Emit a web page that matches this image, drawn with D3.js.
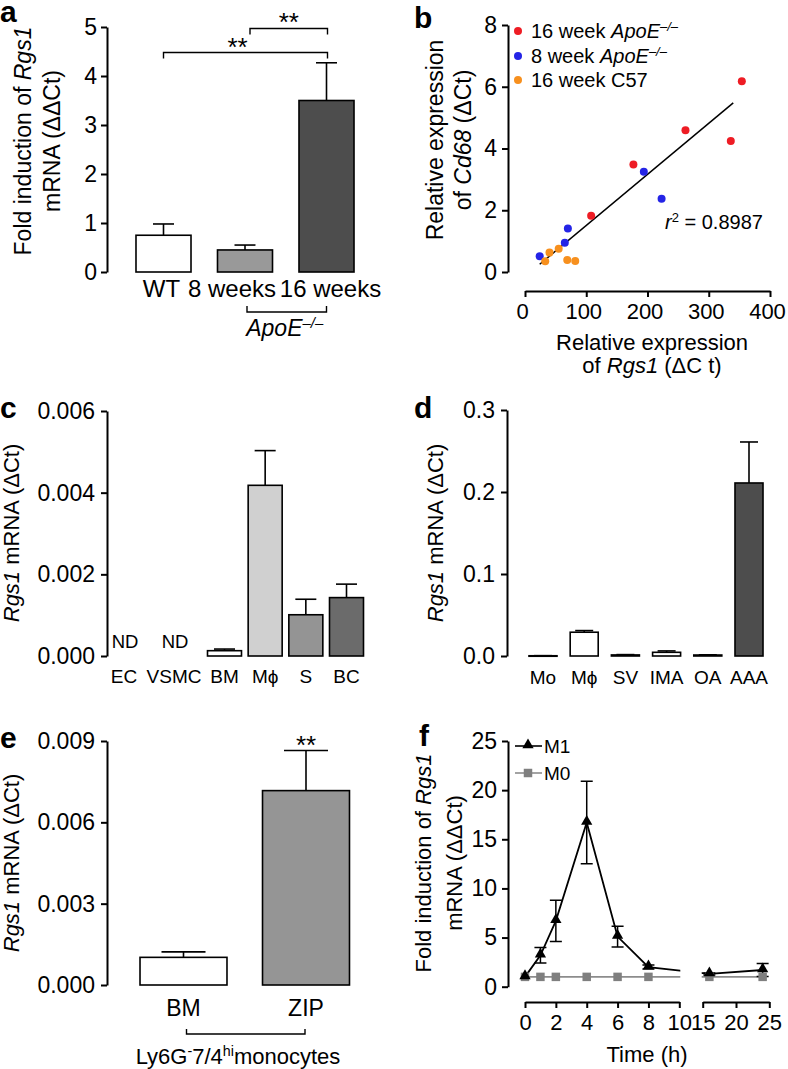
<!DOCTYPE html>
<html><head><meta charset="utf-8">
<script src="https://cdn.jsdelivr.net/npm/d3@7"></script>
<style>
body{margin:0;background:#fff}
svg text{font-family:"Liberation Sans",Arial,Helvetica,sans-serif;fill:#000}
</style></head><body>
<svg id="fig" width="788" height="1069"></svg>
<script>
// ---------- DATA ----------
// panel a
const aCategories = ["WT", "8 weeks", "16 weeks"];
const aValues = [0.75, 0.45, 3.5];
const aErrTop = [0.98, 0.55, 4.27];
const aFills = ["#ffffff", "#999999", "#4d4d4d"];
const aTicks = [0, 1, 2, 3, 4, 5];
const aSig = [{from: "WT", to: "16 weeks", y: 4.48, label: "**"}, {from: "8 weeks", to: "16 weeks", y: 4.97, label: "**"}];
// panel b
const bRedX = [108, 177, 262, 336, 354];
const bRedY = [1.82, 3.48, 4.59, 4.24, 6.18];
const bBlueX = [24, 65, 70, 194, 223];
const bBlueY = [0.51, 0.95, 1.41, 3.25, 2.37];
const bOrangeX = [33, 40, 55, 69, 82];
const bOrangeY = [0.35, 0.63, 0.75, 0.39, 0.36];
const bFitX = [24, 340];
const bFitY = [0.25, 5.48];
const bXTicks = [0, 100, 200, 300, 400];
const bYTicks = [0, 2, 4, 6, 8];
const bLegend = ["16 week ", "8 week ", "16 week C57"];
const bColors = ["#ee1c24", "#2424e6", "#f7901e"];
const bR2 = "0.8987";
// panel c
const cCategories = ["EC", "VSMC", "BM", "M\u03D5", "S", "BC"];
const cValues = [null, null, 0.00013, 0.00418, 0.00101, 0.00143];
const cErrTop = [null, null, 0.00017, 0.00503, 0.00139, 0.00176];
const cFills = [null, null, "#ffffff", "#d0d0d0", "#949494", "#6b6b6b"];
const cTicks = [0, 0.002, 0.004, 0.006];
// panel d
const dCategories = ["Mo", "M\u03D5", "SV", "IMA", "OA", "AAA"];
const dValues = [0.0003, 0.029, 0.0013, 0.0045, 0.0012, 0.211];
const dErrTop = [0.0004, 0.031, 0.0017, 0.0062, 0.0015, 0.261];
const dFills = ["#ffffff", "#ffffff", "#ffffff", "#ffffff", "#ffffff", "#4d4d4d"];
const dTicks = [0, 0.1, 0.2, 0.3];
// panel e
const eCategories = ["BM", "ZIP"];
const eValues = [0.00102, 0.00717];
const eErrTop = [0.00122, 0.00865];
const eFills = ["#ffffff", "#959595"];
const eTicks = [0, 0.003, 0.006, 0.009];
// panel f
const fTime = [0, 1, 2, 4, 6, 8, 16, 24];
const fM1 = [1, 3.2, 6.7, 16.7, 5.1, 2.0, 1.3, 1.7];
const fM1Err = [0, 0.78, 2.1, 4.2, 1.05, 0.2, 0.1, 0.65];
const fM0 = [1, 1, 1, 1, 1, 1, 1, 1];
const fYTicks = [0, 5, 10, 15, 20, 25];
const fXTicks1 = [0, 2, 4, 6, 8, 10];
const fXTicks2 = [15, 20, 25];

// ---------- HELPERS ----------
const svg = d3.select("#fig");
svg.append("rect").attr("width", 788).attr("height", 1069).attr("fill", "#fff");
const TICK_FS = 23;

function styleAxis(g, fs) {
  g.selectAll("path.domain").attr("stroke", "#000").attr("stroke-width", 2);
  g.selectAll(".tick line").attr("stroke", "#000").attr("stroke-width", 2);
  g.selectAll(".tick text").attr("font-size", fs || TICK_FS).attr("font-family", null).attr("fill", "#000");
  g.attr("font-family", null).attr("font-size", null);
}
function yAxis(scale, x, ticks, fmt, pad) {
  const g = svg.append("g").attr("transform", `translate(${x},0)`)
    .call(d3.axisLeft(scale).tickValues(ticks).tickFormat(fmt).tickSize(6).tickSizeOuter(0).tickPadding(pad || 5));
  styleAxis(g);
  return g;
}
function xAxis(scale, y, ticks, fmt, fs) {
  const g = svg.append("g").attr("transform", `translate(0,${y})`)
    .call(d3.axisBottom(scale).tickValues(ticks).tickFormat(fmt).tickSize(6).tickSizeOuter(0).tickPadding(6));
  styleAxis(g, fs);
  return g;
}
function richText(sel, parts) {
  parts.forEach(p => {
    const ts = sel.append("tspan").text(p.t);
    if (p.it) ts.attr("font-style", "italic");
    if (p.sup) ts.attr("baseline-shift", "super").attr("font-size", "0.65em");
  });
  return sel;
}
function label(x, y, parts, fs, anchor, rotate, weight) {
  const t = svg.append("text").attr("font-size", fs).attr("text-anchor", anchor || "middle")
    .attr("transform", `translate(${x},${y})` + (rotate ? " rotate(-90)" : ""));
  if (weight) t.attr("font-weight", weight);
  if (typeof parts === "string") t.text(parts); else richText(t, parts);
  return t;
}
function drawBars(cats, vals, errs, fills, cx, bw, y, capW) {
  const g = svg.append("g");
  cats.forEach((c, i) => {
    if (vals[i] == null) return;
    const xc = cx(c, i);
    g.append("line").attr("x1", xc).attr("x2", xc).attr("y1", y(vals[i])).attr("y2", y(errs[i]))
      .attr("stroke", "#000").attr("stroke-width", 1.6);
    g.append("line").attr("x1", xc - capW / 2).attr("x2", xc + capW / 2).attr("y1", y(errs[i])).attr("y2", y(errs[i]))
      .attr("stroke", "#000").attr("stroke-width", 1.6);
    g.append("rect").attr("x", xc - bw / 2).attr("width", bw)
      .attr("y", y(vals[i])).attr("height", Math.max(0.5, y(0) - y(vals[i])))
      .attr("fill", fills[i]).attr("stroke", "#000").attr("stroke-width", 1.6);
  });
  return g;
}

// ---------- PANEL A ----------
{
  const y = d3.scaleLinear().domain([0, 5]).range([272, 27]);
  const x = d3.scaleBand().domain(aCategories).range([122.75, 367.25]).paddingInner(0.325).paddingOuter(0.1625);
  const cx = c => x(c) + x.bandwidth() / 2;
  yAxis(y, 107, aTicks, d3.format("d"), 4);
  drawBars(aCategories, aValues, aErrTop, aFills, cx, x.bandwidth(), y, 21);
  const labelDx = [-2, -13, 4];
  aCategories.forEach((c, i) => label(cx(c) + labelDx[i], 297, c, 24));
  aSig.forEach((s, i) => {
    const x1 = cx(s.from) + (i === 1 ? 5 : 0), x2 = cx(s.to) + 1, yy = y(s.y);
    svg.append("path").attr("d", `M${x1},${yy + 6}V${yy}H${x2}V${yy + 6}`).attr("fill", "none").attr("stroke", "#000").attr("stroke-width", 1.4);
    label((x1 + x2) / 2 - (i === 0 ? 8 : 0), yy + (i === 0 ? 4 : 3), s.label, 26);
  });
  const bx1 = cx("8 weeks") + 2, bx2 = cx("16 weeks");
  svg.append("path").attr("d", `M${bx1},306V312H${bx2}V306`).attr("fill", "none").attr("stroke", "#000").attr("stroke-width", 1.4);
  label((bx1 + bx2) / 2 - 2, 336, [{t: "ApoE", it: true}, {t: "\u2013/\u2013", it: true, sup: true}], 23);
  label(31, 141, [{t: "Fold induction of "}, {t: "Rgs1", it: true}], 23, "middle", true);
  label(60, 141, [{t: "mRNA (\u0394\u0394Ct)"}], 23, "middle", true);
  label(0, 22, "a", 30, "start", false, "bold");
}

// ---------- PANEL B ----------
{
  const y = d3.scaleLinear().domain([0, 8]).range([272, 25]);
  const x = d3.scaleLinear().domain([0, 400]).range([525, 770]);
  yAxis(y, 508, bYTicks, d3.format("d"), 5);
  const xg = xAxis(x, 291, bXTicks, d3.format("d"), 22);
  xg.selectAll(".tick text").attr("dx", -3);
  svg.append("line").attr("x1", x(bFitX[0])).attr("y1", y(bFitY[0])).attr("x2", x(bFitX[1])).attr("y2", y(bFitY[1]))
    .attr("stroke", "#000").attr("stroke-width", 1.5);
  const groups = [[bRedX, bRedY], [bBlueX, bBlueY], [bOrangeX, bOrangeY]];
  groups.forEach((gp, k) => {
    gp[0].forEach((xv, i) => {
      svg.append("circle").attr("cx", x(xv)).attr("cy", y(gp[1][i])).attr("r", 4).attr("fill", bColors[k]);
    });
  });
  const ly = [31, 56, 80];
  bLegend.forEach((t, k) => {
    svg.append("circle").attr("cx", 518).attr("cy", ly[k]).attr("r", 4).attr("fill", bColors[k]);
    const parts = k < 2 ? [{t: t}, {t: "ApoE", it: true}, {t: "\u2013/\u2013", it: true, sup: true}] : [{t: t}];
    label(531, ly[k] + 7, parts, 20, "start");
  });
  label(665, 229, [{t: "r", it: true}, {t: "2", sup: true}, {t: " = " + bR2}], 20, "start");
  label(443, 140, [{t: "Relative expression"}], 23, "middle", true);
  label(471, 140, [{t: "of "}, {t: "Cd68", it: true}, {t: " (\u0394Ct)"}], 23, "middle", true);
  label(652, 350, [{t: "Relative expression"}], 22);
  label(652, 373, [{t: "of "}, {t: "Rgs1", it: true}, {t: " (\u0394C t)"}], 22);
  label(414, 28, "b", 30, "start", false, "bold");
}

// ---------- PANEL C ----------
{
  const y = d3.scaleLinear().domain([0, 0.006]).range([656, 411]);
  const xi = d3.scaleLinear().domain([0, 1, 2, 5]).range([124, 174, 224.5, 346.5]);
  const cx = (c, i) => xi(i);
  yAxis(y, 107, cTicks, d3.format(".3f"), 6);
  drawBars(cCategories, cValues, cErrTop, cFills, cx, 34, y, 21);
  cCategories.forEach((c, i) => {
    label(xi(i), 683, c, 19);
    if (cValues[i] == null) label(xi(i) + 1, 648, "ND", 18.5);
  });
  label(19, 533, [{t: "Rgs1", it: true}, {t: " mRNA (\u0394Ct)"}], 22, "middle", true);
  label(0, 418, "c", 30, "start", false, "bold");
}

// ---------- PANEL D ----------
{
  const y = d3.scaleLinear().domain([0, 0.3]).range([656, 410]);
  const x = d3.scaleBand().domain(dCategories).range([522.4, 769.6]).paddingInner(0.32).paddingOuter(0.16);
  const cx = c => x(c) + x.bandwidth() / 2;
  yAxis(y, 507, dTicks, d3.format(".1f"), 6);
  drawBars(dCategories, dValues, dErrTop, dFills, cx, x.bandwidth(), y, 18);
  dCategories.forEach(c => label(cx(c), 684, c, 19));
  label(443, 533, [{t: "Rgs1", it: true}, {t: " mRNA (\u0394Ct)"}], 22, "middle", true);
  label(414, 418, "d", 30, "start", false, "bold");
}

// ---------- PANEL E ----------
{
  const y = d3.scaleLinear().domain([0, 0.009]).range([985, 741]);
  const x = d3.scaleBand().domain(eCategories).range([122.25, 367.25]).paddingInner(0.29).paddingOuter(0.145);
  const cx = c => x(c) + x.bandwidth() / 2;
  yAxis(y, 107, eTicks, d3.format(".3f"), 6);
  drawBars(eCategories, eValues, eErrTop, eFills, cx, x.bandwidth(), y, 44);
  eCategories.forEach(c => label(cx(c), 1016, c, 23));
  label(cx("ZIP"), y(eErrTop[1]) + 4, "**", 26);
  const bx1 = cx("BM") + 3, bx2 = cx("ZIP") - 1;
  svg.append("path").attr("d", `M${bx1},1029V1034H${bx2}V1029`).attr("fill", "none").attr("stroke", "#000").attr("stroke-width", 1.4);
  label(238, 1064, [{t: "Ly6G"}, {t: "-", sup: true}, {t: "7/4"}, {t: "hi", sup: true}, {t: "monocytes"}], 22);
  label(19, 863, [{t: "Rgs1", it: true}, {t: " mRNA (\u0394Ct)"}], 22, "middle", true);
  label(0, 748, "e", 30, "start", false, "bold");
}

// ---------- PANEL F ----------
{
  const y = d3.scaleLinear().domain([0, 25]).range([986.7, 741]);
  const x = d3.scaleLinear().domain([0, 10, 15, 25]).range([525, 679.3, 702.7, 769.3]);
  const x1 = d3.scaleLinear().domain([0, 10]).range([525, 679.3]);
  const x2 = d3.scaleLinear().domain([15, 25]).range([702.7, 769.3]);
  yAxis(y, 508, fYTicks, d3.format("d"), 5);
  xAxis(x1, 1002, fXTicks1, d3.format("d"), 22);
  xAxis(x2, 1002, fXTicks2, d3.format("d"), 22);
  const defs = svg.append("defs");
  const cp = defs.append("clipPath").attr("id", "fclip");
  cp.append("rect").attr("x", 500).attr("y", 700).attr("width", x(10) - 500 + 1).attr("height", 300);
  cp.append("rect").attr("x", x(15) - 1).attr("y", 700).attr("width", 100).attr("height", 300);
  const line = d3.line().x((d, i) => x(fTime[i])).y(d => y(d));
  svg.append("path").datum(fM0).attr("d", line).attr("fill", "none").attr("stroke", "#8c8c8c").attr("stroke-width", 1.6).attr("clip-path", "url(#fclip)");
  svg.append("path").datum(fM1).attr("d", line).attr("fill", "none").attr("stroke", "#000").attr("stroke-width", 1.8).attr("clip-path", "url(#fclip)");
  fM1.forEach((v, i) => {
    if (!fM1Err[i]) return;
    const xc = x(fTime[i]), lo = y(v - fM1Err[i]), hi = y(v + fM1Err[i]);
    svg.append("path").attr("d", `M${xc},${lo}V${hi}M${xc - 6},${hi}H${xc + 6}M${xc - 6},${lo}H${xc + 6}`)
      .attr("stroke", "#000").attr("stroke-width", 1.5).attr("fill", "none");
  });
  const tri = d3.symbol().type(d3.symbolTriangle).size(55);
  const sq = d3.symbol().type(d3.symbolSquare).size(72);
  fM0.forEach((v, i) => svg.append("path").attr("d", sq).attr("transform", `translate(${x(fTime[i])},${y(v)})`).attr("fill", "#7f7f7f"));
  fM1.forEach((v, i) => svg.append("path").attr("d", tri).attr("transform", `translate(${x(fTime[i])},${y(v) - 1})`).attr("fill", "#000"));
  svg.append("line").attr("x1", 515).attr("x2", 542).attr("y1", 746).attr("y2", 746).attr("stroke", "#000").attr("stroke-width", 1.6);
  svg.append("path").attr("d", tri).attr("transform", "translate(528,745)").attr("fill", "#000");
  svg.append("line").attr("x1", 515).attr("x2", 542).attr("y1", 773).attr("y2", 773).attr("stroke", "#8c8c8c").attr("stroke-width", 1.6);
  svg.append("path").attr("d", sq).attr("transform", "translate(528,773)").attr("fill", "#7f7f7f");
  label(544, 753, "M1", 19, "start");
  label(544, 780, "M0", 19, "start");
  label(647, 1062, "Time (h)", 22);
  label(431, 863, [{t: "Fold induction of "}, {t: "Rgs1", it: true}], 22, "middle", true);
  label(462, 863, [{t: "mRNA (\u0394\u0394Ct)"}], 22, "middle", true);
  label(419, 746, "f", 30, "start", false, "bold");
}
</script>
</body></html>
